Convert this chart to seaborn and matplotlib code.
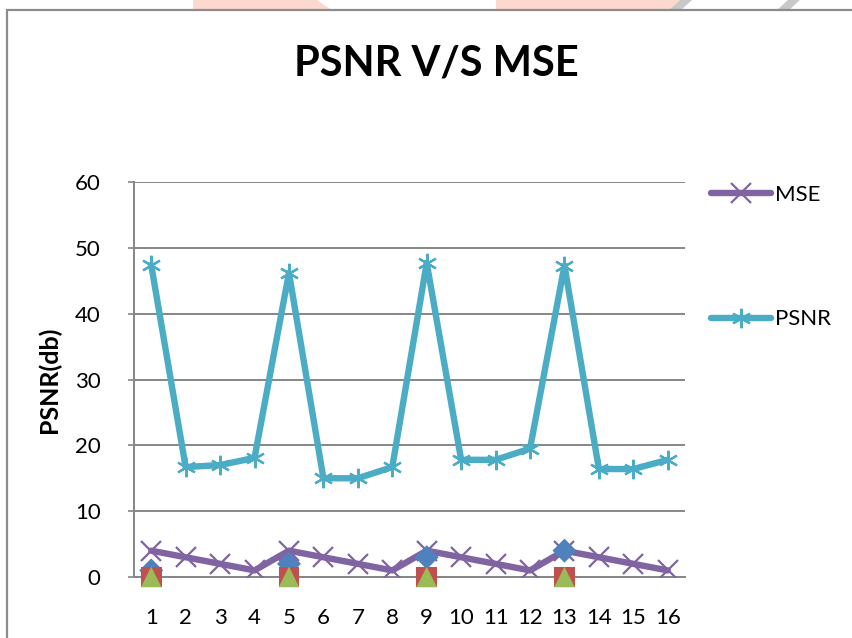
import numpy as np
import pandas as pd
import matplotlib
matplotlib.use("Agg")
import matplotlib.pyplot as plt
import seaborn as sns
from matplotlib.patches import Polygon, Rectangle

# chart values
images = list(range(1, 17))
psnr = [47.4, 16.7, 17.0, 18.1, 46.2, 15.0, 15.0, 16.7,
        47.7, 17.8, 17.8, 19.5, 47.3, 16.4, 16.4, 17.8]
mse = [4, 3, 2, 1, 4, 3, 2, 1, 4, 3, 2, 1, 4, 3, 2, 1]
extra_x = [1, 5, 9, 13]
series1 = [1, 2, 3, 4]
series2 = [0, 0, 0, 0]
series3 = [0, 0, 0, 0]

df = pd.DataFrame({"image": images, "PSNR": psnr, "MSE": mse})
df_extra = pd.DataFrame({"image": extra_x, "s1": series1, "s2": series2, "s3": series3})

sns.set_style("white")
plt.rcParams["font.family"] = ["Lato", "DejaVu Sans"]
plt.rcParams["text.color"] = "black"
plt.rcParams["xtick.color"] = "black"
plt.rcParams["ytick.color"] = "black"
plt.rcParams["axes.labelcolor"] = "black"

W, H = 853, 638
fig = plt.figure(figsize=(W / 100, H / 100), dpi=100)

# faint watermark shapes above the chart frame
def px(x, y):
    return (x / W, 1 - y / H)

fig.patches.append(Polygon([px(193, 0), px(317, 0), px(333, 11), px(193, 11)],
                           closed=True, transform=fig.transFigure,
                           facecolor="#fdd8ce", edgecolor="none", zorder=0))
fig.patches.append(Polygon([px(496, 0), px(680, 0), px(668, 11), px(496, 11)],
                           closed=True, transform=fig.transFigure,
                           facecolor="#fdd8ce", edgecolor="none", zorder=0))
fig.patches.append(Polygon([px(680, 0), px(692, 0), px(680, 11), px(668, 11)],
                           closed=True, transform=fig.transFigure,
                           facecolor="#c8c8c8", edgecolor="none", zorder=0))
fig.patches.append(Polygon([px(788, 0), px(800, 0), px(788, 11), px(776, 11)],
                           closed=True, transform=fig.transFigure,
                           facecolor="#c8c8c8", edgecolor="none", zorder=0))

# chart frame
fig.patches.append(Rectangle(px(7, 700), (W + 20) / W, 690 / H,
                             transform=fig.transFigure, fill=False,
                             edgecolor="#8c8c8c", linewidth=1.6, zorder=1))

ax = fig.add_axes([134 / W, 1 - 577 / H, (685 - 134) / W, (577 - 182) / H])
ax.set_facecolor("none")

purple = "#8064A2"
cyan = "#4BACC6"

sns.lineplot(data=df, x="image", y="MSE", ax=ax, color=purple, linewidth=4.6,
             marker="x", markersize=14, markeredgewidth=1.6,
             markeredgecolor=purple, label="MSE", zorder=3)
sns.lineplot(data=df, x="image", y="PSNR", ax=ax, color=cyan, linewidth=4.6,
             marker=(6, 2, 0), markersize=14, markeredgewidth=1.6,
             markeredgecolor=cyan, label="PSNR", zorder=3)

sns.scatterplot(data=df_extra, x="image", y="s1", ax=ax, marker="D", s=150,
                color="#4F81BD", edgecolor="none", zorder=4, clip_on=False)
sns.scatterplot(data=df_extra, x="image", y="s2", ax=ax, marker="s", s=220,
                color="#C0504D", edgecolor="none", zorder=5, clip_on=False)
sns.scatterplot(data=df_extra, x="image", y="s3", ax=ax, marker="^", s=220,
                color="#9BBB59", edgecolor="none", zorder=6, clip_on=False)

ax.set_xlim(0.5, 16.5)
ax.set_ylim(0, 60)
ax.set_xticks(images)
ax.set_yticks(range(0, 61, 10))
ax.tick_params(axis="x", labelsize=16, length=0, pad=22)
ax.tick_params(axis="y", labelsize=16, length=4, width=1.2, color="#868686",
               pad=20, left=True, direction="out")
ax.yaxis.grid(True, color="#868686", linewidth=1.4)
ax.set_axisbelow(True)
for side in ["top", "right"]:
    ax.spines[side].set_visible(False)
for side in ["left", "bottom"]:
    ax.spines[side].set_color("#868686")
    ax.spines[side].set_linewidth(1.4)

ax.set_xlabel("")
ax.set_ylabel("PSNR(db)", fontsize=18, fontweight="bold", labelpad=10)

leg = ax.legend(loc="upper left", bbox_to_anchor=((711 - 134) / (685 - 134), 1.0 - 3 / 395),
                frameon=False, fontsize=16, handlelength=2.7, handletextpad=0.2,
                labelspacing=4.7, borderpad=0, borderaxespad=0)

fig.text(0.512, 1 - 63 / H, "PSNR V/S MSE", ha="center", va="center",
         fontsize=30, fontweight="bold")

fig.savefig("out.png", dpi=100)
